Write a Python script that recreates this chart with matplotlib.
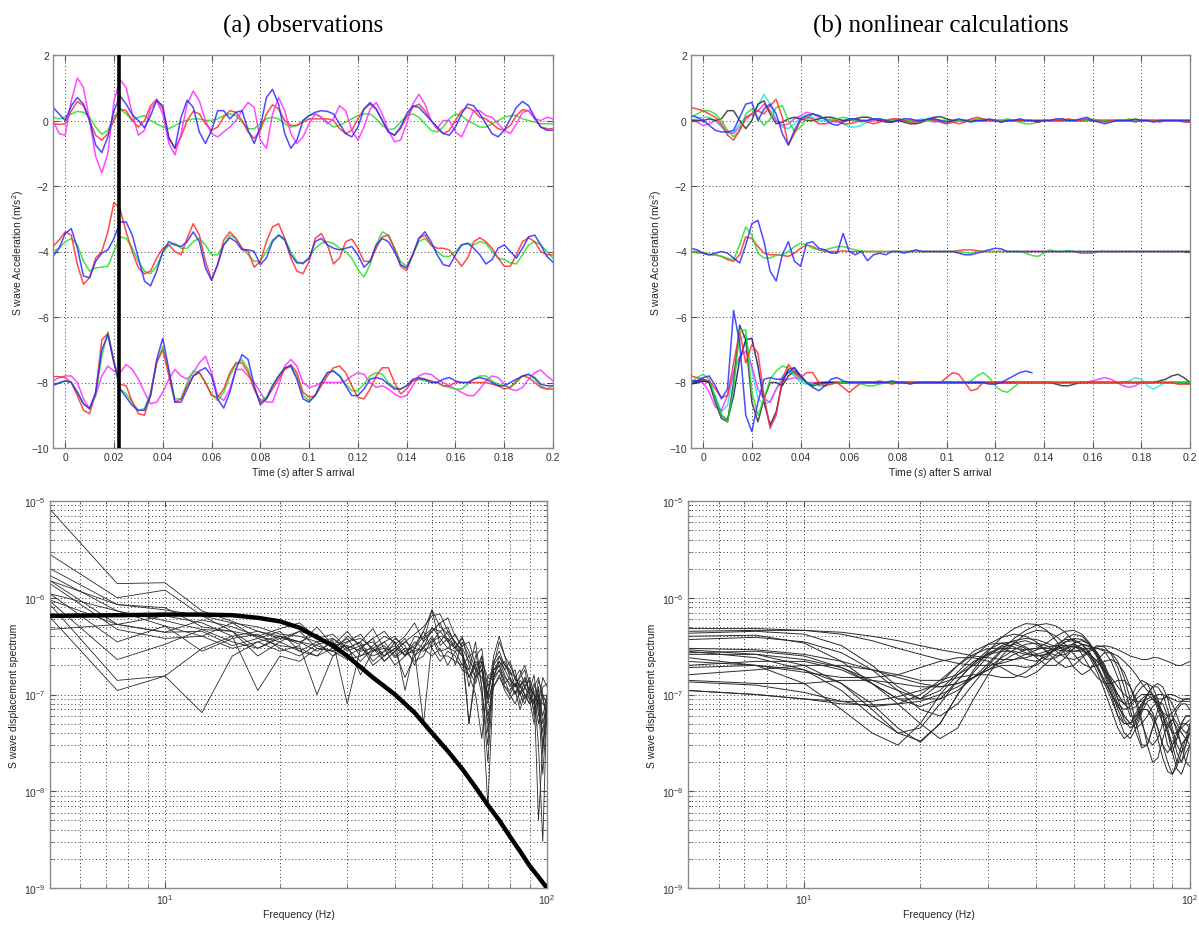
import numpy as np
import matplotlib
matplotlib.use("Agg")
import matplotlib.pyplot as plt
from matplotlib.ticker import FixedLocator, FixedFormatter, NullFormatter

plt.rcParams['font.family'] = ['Liberation Sans', 'DejaVu Sans']
plt.rcParams['mathtext.fontset'] = 'custom'
plt.rcParams['mathtext.rm'] = 'Liberation Sans'
plt.rcParams['mathtext.it'] = 'Liberation Sans:italic'

# ---------------- time axis (s) of the acceleration traces ----------------
t = np.arange(83) * 0.0025 - 0.005
offsets = [0.0, -4.0, -8.0]        # vertical offsets of the three station groups
s_marker = 0.022                    # thick vertical marker, panel (a)

# ---- panel (a) observations: acceleration relative to group offset (m/s^2)
obs_g1_blue = [0.4, 0.2, 0.0, 0.45, 0.7, 0.5, 0.0, -0.75, -0.98, -0.5,
               0.3, 0.75, 0.5, 0.18, 0.0, -0.22, 0.15, 0.62, 0.45, -0.55,
               -0.85, 0.1, 0.62, 0.4, -0.35, -0.7, -0.3, 0.3, 0.3, 0.05,
               0.25, 0.3, -0.3, -0.7, -0.2, 0.7, 0.95, 0.5, -0.4, -0.85,
               -0.6, 0.0, 0.15, 0.25, 0.3, 0.28, 0.2, -0.1, -0.4, -0.5,
               -0.2, 0.35, 0.55, 0.35, 0.0, -0.35, -0.45, -0.2, 0.2, 0.45,
               0.4, 0.2, 0.0, -0.2, -0.4, -0.45, -0.2, 0.2, 0.5, 0.45,
               0.2, -0.1, -0.4, -0.5, -0.3, 0.05, 0.4, 0.58, 0.45, 0.1,
               -0.2, -0.3, -0.3]
obs_g1_red = [-0.1, -0.12, -0.1, 0.3, 0.58, 0.45, 0.0, -0.45, -0.6, -0.4,
              0.0, 0.35, 0.3, 0.0, -0.2, 0.0, 0.45, 0.65, 0.35, -0.5,
              -0.85, -0.5, 0.0, 0.28, 0.2, -0.1, -0.3, -0.2, 0.1, 0.3,
              0.25, 0.0, -0.35, -0.55, -0.3, 0.2, 0.48, 0.35, 0.0, -0.15,
              -0.15, -0.05, 0.05, 0.05, 0.05, 0.05, 0.0, -0.25, -0.4, -0.3,
              0.05, 0.35, 0.5, 0.35, 0.0, -0.35, -0.45, -0.25, 0.1, 0.4,
              0.5, 0.3, 0.0, -0.25, -0.4, -0.3, 0.0, 0.3, 0.4, 0.3,
              0.1, 0.05, -0.1, -0.25, -0.3, -0.15, 0.15, 0.33, 0.3, 0.05,
              -0.2, -0.25, -0.25]
obs_g1_magenta = [0.0, -0.4, -0.45, 0.6, 1.3, 1.0, 0.0, -1.1, -1.6, -1.0,
                  0.6, 1.25, 1.0, 0.2, -0.45, -0.3, 0.35, 0.6, 0.2, -0.7,
                  -1.05, -0.4, 0.5, 0.9, 0.6, 0.0, -0.4, -0.5, -0.35, -0.2,
                  0.0, 0.3, 0.55, 0.4, -0.6, -0.85, 0.2, 0.7, 0.3, -0.4,
                  -0.7, -0.5, -0.1, 0.2, 0.1, -0.1, 0.05, 0.45, 0.3, -0.3,
                  -0.6, -0.2, 0.35, 0.55, 0.2, -0.3, -0.65, -0.6, -0.1, 0.5,
                  0.8, 0.5, 0.0, -0.25, 0.0, 0.0, -0.35, -0.5, -0.1, 0.3,
                  0.3, 0.15, 0.1, -0.1, -0.3, -0.4, -0.1, 0.25, 0.3, 0.05,
                  0.0, 0.1, 0.05]
obs_g1_green = [0.1, 0.05, 0.1, 0.2, 0.28, 0.25, 0.1, -0.2, -0.42, -0.3,
                0.1, 0.35, 0.2, 0.0, 0.1, 0.15, 0.0, -0.1, -0.2, -0.25,
                -0.15, -0.05, 0.0, 0.05, 0.05, 0.0, 0.0, 0.05, 0.15, 0.2,
                0.15, -0.05, -0.25, -0.25, -0.1, 0.05, 0.1, 0.05, -0.1, -0.2,
                -0.15, 0.0, 0.15, 0.2, 0.1, -0.05, -0.2, -0.15, -0.05, 0.05,
                0.15, 0.2, 0.2, 0.05, -0.15, -0.28, -0.25, -0.05, 0.15, 0.2,
                0.1, -0.1, -0.3, -0.35, -0.2, 0.05, 0.2, 0.15, 0.0, -0.1,
                -0.2, -0.2, -0.1, 0.0, 0.1, 0.15, 0.15, 0.05, 0.0, -0.05,
                -0.1, -0.1, -0.1]
obs_g2_red = [0.15, 0.35, 0.6, 0.5, -0.4, -1.0, -0.8, -0.2, 0.0, 0.6,
              1.5, 1.3, 0.6, 0.0, -0.5, -0.68, -0.6, -0.2, 0.1, 0.2,
              0.0, -0.1, 0.4, 0.85, 0.5, -0.3, -0.85, -0.4, 0.35, 0.6,
              0.4, 0.1, 0.0, -0.48, -0.3, 0.3, 0.75, 0.85, 0.4, -0.2,
              -0.6, -0.68, -0.3, 0.4, 0.55, 0.2, -0.38, -0.2, 0.3, 0.38,
              0.1, -0.3, -0.3, 0.1, 0.45, 0.5, 0.1, -0.45, -0.58, -0.1,
              0.4, 0.5, 0.2, 0.1, 0.1, 0.05, -0.2, -0.45, -0.2, 0.3,
              0.42, 0.3, 0.1, -0.2, -0.45, -0.45, -0.1, 0.3, 0.42, 0.3,
              0.0, -0.1, -0.1]
obs_g2_blue = [-0.15, 0.1, 0.55, 0.7, 0.1, -0.75, -0.8, -0.3, -0.05, 0.05,
               0.4, 0.9, 0.9, 0.5, -0.2, -0.9, -1.05, -0.6, 0.0, 0.3,
               0.2, 0.15, 0.3, 0.6, 0.3, -0.5, -0.88, -0.4, 0.2, 0.42,
               0.3, 0.05, 0.05, 0.0, -0.4, -0.2, 0.3, 0.5, 0.35, -0.1,
               -0.35, -0.35, -0.2, 0.3, 0.4, 0.2, 0.1, 0.05, 0.1, 0.15,
               -0.1, -0.48, -0.3, 0.2, 0.4, 0.3, 0.0, -0.4, -0.5, -0.1,
               0.4, 0.6, 0.3, -0.1, -0.4, -0.45, -0.1, 0.2, 0.25, 0.1,
               -0.1, -0.38, -0.25, 0.1, 0.2, 0.0, -0.2, 0.1, 0.45, 0.5,
               0.2, -0.15, -0.33]
obs_g2_green = [0.0, 0.1, 0.3, 0.4, 0.2, -0.3, -0.6, -0.5, -0.48, -0.45,
                0.0, 0.45, 0.4, 0.1, -0.3, -0.6, -0.68, -0.45, -0.05, 0.2,
                0.25, 0.1, 0.1, 0.3, 0.4, 0.2, -0.1, -0.1, 0.2, 0.5,
                0.4, 0.1, -0.1, -0.3, -0.3, 0.0, 0.35, 0.5, 0.4, 0.0,
                -0.3, -0.38, -0.2, 0.1, 0.25, 0.3, 0.25, 0.1, 0.0, -0.2,
                -0.55, -0.78, -0.4, 0.2, 0.6, 0.5, 0.1, -0.3, -0.45, -0.1,
                0.3, 0.4, 0.2, 0.0, -0.15, -0.15, 0.0, 0.2, 0.25, 0.2,
                0.3, 0.25, 0.0, -0.2, -0.25, -0.35, -0.38, -0.1, 0.2, 0.3,
                0.2, 0.0, -0.2]
obs_g3_red = [0.18, 0.18, 0.15, 0.0, -0.4, -0.85, -0.95, -0.3, 1.3, 1.5,
              0.6, -0.05, -0.1, -0.6, -0.95, -1.0, -0.4, 0.6, 1.0, 0.2,
              -0.6, -0.5, -0.1, 0.2, 0.3, 0.0, -0.4, -0.45, -0.2, 0.3,
              0.6, 0.6, 0.3, -0.2, -0.6, -0.5, -0.2, 0.1, 0.4, 0.55,
              0.3, -0.3, -0.45, -0.4, -0.1, 0.2, 0.45, 0.5, 0.3, -0.1,
              -0.45, -0.5, -0.2, 0.2, 0.45, 0.45, 0.0, -0.35, -0.2, 0.05,
              0.1, 0.1, 0.05, 0.0, -0.1, -0.1, 0.0, 0.0, 0.0, 0.0,
              0.0, 0.0, -0.05, -0.1, -0.2, -0.15, 0.05, 0.2, 0.15, 0.0,
              -0.15, -0.2, -0.2]
obs_g3_blue = [-0.08, -0.02, 0.05, 0.0, -0.3, -0.65, -0.8, -0.3, 1.0, 1.45,
               0.6, -0.2, -0.45, -0.7, -0.85, -0.85, -0.4, 0.7, 1.35, 0.4,
               -0.6, -0.6, -0.2, 0.2, 0.35, 0.45, 0.2, -0.5, -0.78, -0.3,
               0.4, 0.85, 0.7, -0.1, -0.68, -0.5, -0.1, 0.2, 0.45, 0.5,
               0.1, -0.5, -0.6, -0.4, 0.0, 0.3, 0.35, 0.2, -0.1, -0.4,
               -0.4, -0.2, 0.1, 0.15, 0.1, -0.05, -0.2, -0.2, -0.1, 0.1,
               0.15, 0.1, 0.0, 0.0, 0.1, 0.15, 0.05, 0.0, 0.0, 0.1,
               0.15, 0.1, 0.0, -0.1, -0.1, 0.0, 0.1, 0.2, 0.25, 0.15,
               -0.05, -0.1, -0.1]
obs_g3_green = [-0.1, 0.0, 0.05, 0.0, -0.3, -0.65, -0.8, -0.4, 0.8, 1.55,
                0.7, -0.2, -0.35, -0.6, -0.85, -0.8, -0.3, 0.6, 1.1, 0.3,
                -0.5, -0.5, 0.0, 0.35, 0.3, 0.0, -0.35, -0.55, -0.3, 0.2,
                0.55, 0.7, 0.4, -0.2, -0.55, -0.45, -0.1, 0.2, 0.4, 0.5,
                0.2, -0.4, -0.55, -0.4, 0.0, 0.3, 0.35, 0.2, -0.05, -0.25,
                -0.25, -0.05, 0.2, 0.3, 0.25, 0.0, -0.15, -0.2, -0.1, 0.05,
                0.1, 0.05, 0.0, 0.0, -0.1, -0.15, -0.2, -0.2, -0.05, 0.1,
                0.2, 0.2, 0.05, -0.05, -0.1, -0.15, 0.0, 0.2, 0.25, 0.1,
                -0.1, -0.2, -0.1]
obs_g3_magenta = [0.05, 0.15, 0.2, 0.2, 0.0, -0.5, -0.8, -0.4, 0.2, 0.5,
                  0.35, 0.3, 0.55, 0.4, 0.1, -0.3, -0.65, -0.6, -0.3, 0.1,
                  0.4, 0.2, 0.1, 0.3, 0.6, 0.8, 0.3, -0.4, -0.55, -0.2,
                  0.4, 0.4, 0.2, 0.0, -0.3, -0.6, -0.6, -0.1, 0.5, 0.7,
                  0.5, 0.0, -0.15, -0.1, 0.0, 0.0, 0.0, 0.0, 0.05, 0.2,
                  0.3, 0.25, 0.0, -0.15, -0.1, -0.2, -0.35, -0.45, -0.4, -0.1,
                  0.2, 0.28, 0.25, 0.1, 0.0, -0.1, -0.2, -0.3, -0.4, -0.4,
                  -0.2, 0.05, 0.2, 0.15, -0.05, -0.2, -0.25, -0.15, 0.1, 0.3,
                  0.38, 0.2, 0.05]

# ---- panel (b) nonlinear calculations: acceleration relative to group offset
calc_g1_blue = [0.15, 0.1, 0, -0.15, -0.3, -0.35, -0.35, -0.3, 0.1, 0.5,
                0.55, 0, 0.35, 0.5, 0.2, -0.4, -0.75, -0.3, 0.05, 0.15,
                0.2, 0.15, 0.05, -0.1, -0.15, -0.05, 0.05, 0.05, 0, 0,
                0.05, 0.05, 0, -0.05, 0, 0.05, 0.05, 0, 0, 0.05,
                0.05, 0, -0.05, 0, 0.05, 0, -0.05, 0, 0, 0.05,
                0, -0.05, 0, 0, 0.05, 0, 0, -0.05, 0, 0,
                0.05, 0.05, 0, 0, 0.05, 0.1, 0, -0.05, -0.1, -0.05,
                0, 0, 0, 0.05, 0, 0, -0.05, 0, 0, 0,
                0, 0, 0]
calc_g1_red = [0.4, 0.35, 0.3, 0.2, 0.1, -0.1, -0.45, -0.6, -0.3, 0.05,
               0.2, 0.3, 0.2, 0.45, 0.65, 0.1, -0.75, -0.4, 0, 0.1,
               0.05, -0.1, -0.1, -0.05, 0, -0.1, -0.1, -0.05, 0, -0.05,
               -0.1, -0.05, 0, 0.05, 0.05, 0, -0.05, -0.05, 0, 0.05,
               0, -0.05, -0.1, -0.05, -0.1, -0.05, 0.05, 0.1, 0.05, 0,
               0, -0.05, 0, 0, 0, 0, 0, -0.05, 0, 0,
               0, 0, 0.05, 0, 0, 0.05, 0, 0, -0.05, 0,
               0, 0, 0, -0.05, 0, 0, 0, -0.05, 0, 0,
               0, -0.05, -0.05]
calc_g1_green = [0.1, 0.2, 0.3, 0.3, 0.2, 0, -0.3, -0.5, -0.3, 0.2,
                 0.35, 0.1, -0.15, 0.05, 0.4, 0.45, 0, -0.35, -0.2, 0.05,
                 0.2, 0.15, 0.05, 0, 0.05, 0.1, 0.05, 0, -0.05, 0,
                 0.05, 0.05, 0, 0, 0.05, 0, 0, -0.05, 0, 0,
                 0.05, 0, 0, -0.05, 0, 0, 0, 0.05, 0.05, 0,
                 0, 0, 0.05, 0, -0.05, -0.1, -0.1, -0.05, 0, 0,
                 0, 0.05, 0, 0, 0, 0, 0.05, 0, 0, 0,
                 0, 0, 0.05, 0, 0, 0, 0, 0, 0, 0,
                 0, 0, 0]
calc_g1_cyan = [0, 0.05, 0.1, 0.1, 0, -0.2, -0.4, -0.35, -0.1, 0.1,
                0.2, 0.45, 0.8, 0.5, 0, -0.2, -0.25, -0.1, 0.1, 0.15,
                0.1, 0, 0, 0.05, 0, -0.1, -0.2, -0.2, -0.15, -0.05,
                0, 0, 0, 0, 0.05, 0, 0, 0, 0.05, 0,
                0, -0.05, -0.1, -0.05, 0, 0, 0, 0, 0, 0,
                0, 0, 0, 0, 0, 0, 0, 0, 0, 0,
                0, 0, 0, 0, 0, 0.05, 0, 0, 0, 0,
                0, 0, 0, 0, 0, 0, 0, 0, 0, 0,
                0, 0, 0]
calc_g1_black = [0, 0, 0, 0.05, 0, 0.05, 0.3, 0.3, 0, -0.25,
                 0, 0.5, 0.6, 0.2, -0.1, -0.05, 0.05, 0.1, 0.05, 0,
                 0, 0.05, 0.1, 0.1, 0.05, 0, 0, 0.05, 0.1, 0.1,
                 0.05, 0, -0.05, -0.05, 0, -0.05, -0.1, -0.1, -0.05, 0.05,
                 0.1, 0.12, 0.05, 0, 0, 0, 0, 0, 0, 0,
                 0, 0, 0, 0, 0, 0, 0, 0, 0, 0,
                 0, 0, 0, 0, 0, 0, 0, 0, 0, 0,
                 0, 0, 0, 0, 0, 0, 0, 0, 0, 0,
                 0, 0, 0]
calc_g1_magenta = [0.05, -0.05, -0.15, -0.1, 0, -0.15, -0.35, -0.4, -0.2, 0.1,
                   0.2, 0.3, 0.5, 0.3, 0, -0.15, -0.1, 0.05, 0.15, 0.25,
                   0.2, 0.1, 0.05, 0, -0.05, 0, 0.05, 0, 0, 0,
                   0, 0, 0, 0, 0, 0, 0, 0, 0, 0,
                   -0.05, 0, 0, 0, 0, 0, 0, 0, 0, 0,
                   0, 0, 0, 0, 0, 0, 0, 0, 0, 0,
                   0, 0, 0, 0, 0, 0, 0, 0, 0, 0,
                   0, 0, 0, 0, 0, 0, 0, 0, 0, 0,
                   0, 0, 0]
calc_g2_blue = [0.1, 0.05, -0.05, -0.1, -0.05, 0, -0.05, -0.2, -0.35, 0.2,
                0.85, 0.95, 0.3, -0.6, -0.9, -0.1, 0.3, -0.3, -0.45, 0.25,
                0.3, 0.1, 0.05, -0.05, -0.05, 0.55, 0, -0.1, 0, -0.28,
                -0.1, -0.05, -0.1, 0, 0, -0.05, 0, 0.05, 0, 0,
                0, 0, 0, 0, -0.05, -0.1, -0.1, -0.05, 0, 0.05,
                0.1, 0.08, 0, 0, 0, 0, 0, 0, 0, 0,
                0, 0, 0, 0, 0, 0, 0, 0, 0, 0,
                0, 0, 0, 0, 0, 0, 0, 0, 0, 0,
                0, 0, 0]
calc_g2_red = [0, 0, -0.05, -0.1, -0.1, -0.15, -0.25, -0.3, -0.1, 0.45,
               0.4, 0.15, -0.05, -0.1, -0.1, -0.12, -0.15, -0.05, 0.1, 0.2,
               0.15, 0.05, 0, 0, 0, 0.02, 0, 0, 0, 0,
               0, 0, 0, 0, 0, 0, 0, 0, 0, 0,
               0, 0, 0, 0, 0.03, 0.05, 0.05, 0.03, 0, 0,
               0, 0, 0, 0, 0, 0, 0, 0, 0, 0,
               0, 0, 0, 0, -0.05, -0.05, -0.05, 0, 0, 0,
               0, 0, 0, 0, 0, 0, 0, 0, 0, 0,
               0, 0, 0]
calc_g2_green = [0, -0.05, -0.05, -0.1, -0.1, -0.15, -0.2, -0.25, 0.2, 0.75,
                 0.5, -0.05, -0.2, -0.2, -0.12, -0.1, 0, 0.15, 0.25, 0.2,
                 0.1, 0.05, 0.05, 0.1, 0.15, 0.15, 0.1, 0.05, 0.02, 0,
                 0, 0, 0, 0, 0, 0, 0, 0, 0, 0,
                 0, 0, 0, 0, 0, -0.03, -0.05, 0, 0, 0,
                 0, 0, 0, 0, 0, -0.05, -0.12, -0.15, -0.05, 0.05,
                 0, 0, 0.03, 0, 0, 0, 0, 0, 0, 0,
                 0, 0, 0, 0, 0, 0, 0, 0, 0, 0,
                 0, 0, 0]
calc_g3_blue = [0.05, 0.05, 0.15, 0.2, -0.1, -0.5, -0.2, 2.2, 1.2, -1.0,
                -1.5, -0.6, 0.1, 0.15, 0.1, 0.1, 0.3, 0.45, 0.2, 0,
                -0.15, -0.25, -0.1, 0.1, 0.15, 0.05, 0, 0, 0, 0,
                0, 0, 0, 0.05, 0, 0, -0.05, 0, 0, 0,
                0, 0, 0, 0, 0, 0, 0, 0, 0, -0.05,
                -0.05, 0, 0.1, 0.2, 0.3, 0.35, 0.3]
calc_g3_red = [0.2, 0.15, 0.1, 0.05, -0.2, -0.45, -0.4, 0.6, 1.55, 0.6,
               1.15, 0.9, -0.4, -1.4, -1.0, 0.1, 0.55, 0.3, 0.15, 0.3,
               0.3, 0, -0.1, -0.05, 0, -0.15, -0.3, -0.15, 0, 0,
               0, 0.05, 0, -0.05, 0, 0, 0, 0, 0, 0,
               0, 0, 0.15, 0.3, 0.25, 0, -0.25, -0.2, 0, 0,
               0, 0, 0, 0, 0, 0, 0, 0, 0, 0,
               0, 0, 0, 0, 0, 0, 0, 0, 0, 0,
               0, 0, 0, 0, 0, 0, 0, 0, 0, 0,
               -0.05, -0.05, -0.05]
calc_g3_green = [0, 0.15, 0.25, 0.1, -0.5, -1.0, -1.2, -0.2, 1.6, 1.6,
                 -0.3, -1.0, -0.5, 0.1, 0.35, 0.5, 0.45, 0.25, 0.1, 0,
                 -0.05, -0.1, -0.1, -0.05, 0, 0, 0, 0, -0.05, -0.1,
                 -0.1, -0.05, 0, 0, 0, 0, 0, 0, 0, 0,
                 0, 0, 0, 0, 0, 0, 0.05, 0.2, 0.3, 0.15,
                 -0.1, -0.25, -0.3, -0.15, 0, 0, 0, 0, 0, 0,
                 0, 0, 0, 0, 0, 0, 0, 0, 0, 0,
                 0, 0, 0, 0, 0, 0, 0, 0, 0, 0,
                 0, 0, 0]
calc_g3_black = [0, 0.05, 0.1, 0, -0.6, -1.1, -1.2, 0, 1.75, 1.3,
                 -0.6, -1.2, -0.5, 0, 0, -0.1, 0.2, 0.35, 0.2, 0,
                 -0.05, 0, 0, 0, 0, 0, 0, 0, 0, 0,
                 0, 0, 0, 0, 0, 0, 0, 0, 0, 0,
                 0, 0, 0, 0, 0, 0, 0, 0, 0, 0,
                 0, 0, 0, 0, 0, 0, 0, 0, 0, 0,
                 -0.05, -0.1, -0.1, -0.05, 0, 0, 0, 0, 0, 0,
                 0, 0, 0, 0, 0, 0, 0, 0.05, 0.1, 0.2,
                 0.25, 0.15, 0]
calc_g3_cyan = [0, 0, 0.05, 0, -0.4, -0.9, -0.7, 0.3, 1.3, 1.45,
                0.4, -0.5, -0.65, -0.6, -0.2, 0.2, 0.35, 0.2, 0, -0.05,
                -0.1, -0.05, 0, 0, 0, 0, 0, 0, 0, 0,
                0, 0, 0, 0, 0, 0, 0, 0, 0, 0,
                0, 0, 0, 0, 0, 0, 0, 0, 0, 0,
                0, 0, 0, 0, 0, 0, 0, 0, 0, 0,
                0, 0, 0, 0, 0, 0, 0, 0, 0, 0,
                0, 0, 0.05, 0.15, 0.1, -0.1, -0.2, -0.1, 0, 0,
                0, 0, 0]
calc_g3_magenta = [0, 0.05, 0, -0.3, -0.75, -0.85, -0.4, 0.3, 0.8, 0.95,
                   0.5, -0.2, -0.5, -0.6, -0.2, 0.05, 0.1, 0.15, 0.1, 0,
                   0, 0, 0, 0, 0, 0, 0, 0, 0, 0,
                   0, 0, 0, 0, 0, 0, 0, 0, 0, 0,
                   0, 0, 0, 0, 0, 0, 0, 0, 0, 0,
                   0, 0, 0, 0, 0, 0, 0, 0, 0, 0,
                   0, 0, 0, 0, 0, 0, 0.05, 0.1, 0.15, 0.1,
                   0, -0.1, -0.15, -0.1, 0, 0, 0, 0, 0, 0,
                   0, 0, 0]
calc_g3_navy = [-0.05, 0, 0.05, 0, -0.5, -1.0, -1.15, -0.4, 0.7, 1.3,
                1.35, 0.5, -0.6, -1.3, -0.9, 0, 0.4, 0.45, 0.2, 0,
                -0.1, -0.05, 0, 0, 0, 0, 0, 0, 0, 0,
                0, 0, 0, 0, 0, 0, 0, 0, 0, 0,
                0, 0, 0, 0, 0, 0, 0, 0, 0, 0,
                0, 0, 0, 0, 0, 0, 0, 0, 0, 0,
                0, 0, 0, 0, 0, 0, 0, 0, 0, 0,
                0, 0, 0, 0, 0, 0, 0, 0, 0, 0,
                0, 0, 0]

# ---------------- spectra ----------------
freq = np.arange(39) * 2.5 + 5.0          # Hz
spec_unit = 1e-7
# model source spectrum (thick line in (a)), in units of 1e-7
model_freq = [5, 7.5, 10, 12.5, 15, 17.5, 20, 22.5, 25, 27.5, 30, 35, 40, 45,
              50, 55, 60, 65, 70, 75, 80, 85, 90, 95, 100]
model_spec = [6.5, 6.6, 6.7, 6.7, 6.6, 6.2, 5.7, 4.9, 3.9, 3.2, 2.5, 1.5, 1.0,
              0.65, 0.40, 0.26, 0.17, 0.11, 0.072, 0.050, 0.034, 0.024, 0.017,
              0.013, 0.010]
obs_spec = [
    [82, 14, 14.3, 7.3, 5.7, 4.5, 4.0, 3.3, 5.0, 3.2, 4.5, 3.0, 3.8, 4.5, 3.3, 4.0, 5.5, 3.5, 7.5, 5.0,
     4.2, 3.0, 2.5, 1.8, 3.5, 1.2, 0.3, 2.0, 3.5, 2.5, 2.0, 1.5, 1.8, 1.2, 1.5, 1.0, 0.8, 1.5, 1.2],
    [28, 10, 12, 6.5, 4.5, 4.0, 4.8, 5.5, 3.8, 4.2, 3.0, 3.5, 4.8, 3.0, 2.8, 3.5, 4.2, 5.0, 6.5, 6.8,
     4.5, 3.5, 2.8, 1.2, 2.5, 3.0, 0.9, 2.2, 2.8, 2.0, 1.8, 1.2, 1.6, 2.0, 1.3, 0.6, 1.2, 0.25, 0.8],
    [20, 8.5, 7.5, 6.5, 5.5, 5.0, 4.2, 4.0, 3.5, 3.8, 2.8, 3.2, 3.5, 2.5, 3.0, 3.8, 2.5, 3.5, 4.5, 5.5,
     6.2, 4.0, 3.2, 3.5, 2.0, 1.0, 0.07, 1.5, 2.5, 2.0, 1.7, 1.5, 1.2, 1.0, 0.8, 1.2, 1.5, 0.9, 0.6],
    [17, 7.3, 5.8, 4.7, 3.5, 3.0, 3.8, 4.5, 4.0, 3.2, 3.5, 4.2, 2.8, 3.5, 4.0, 2.8, 3.2, 4.5, 7.5, 3.2,
     3.8, 3.0, 4.0, 2.0, 1.5, 2.5, 0.4, 1.5, 2.2, 1.8, 1.4, 1.2, 1.5, 1.8, 1.0, 0.8, 1.4, 1.0, 0.5],
    [15, 5.3, 4.4, 5.9, 5.0, 4.0, 3.5, 4.5, 3.0, 2.8, 4.0, 3.3, 2.0, 2.5, 3.5, 1.1, 3.0, 4.0, 4.8, 4.5,
     3.5, 4.2, 3.0, 2.2, 1.8, 2.5, 1.2, 1.8, 2.0, 1.5, 1.3, 1.0, 1.2, 1.5, 1.0, 1.3, 0.9, 0.4, 1.0],
    [14, 4.7, 3.8, 4.0, 3.0, 3.5, 2.8, 3.2, 1.0, 2.5, 3.0, 2.2, 3.0, 3.5, 2.5, 3.0, 2.8, 0.5, 3.5, 4.5,
     5.0, 3.2, 2.5, 1.5, 2.2, 1.8, 0.8, 1.5, 1.8, 1.4, 1.0, 1.3, 1.0, 1.2, 0.9, 0.5, 1.0, 0.3, 0.9],
    [11, 3.5, 5.1, 2.8, 3.8, 4.2, 3.0, 2.5, 3.3, 3.6, 0.8, 3.0, 2.5, 2.8, 3.2, 2.5, 3.5, 3.0, 4.0, 2.8,
     3.0, 3.5, 2.6, 0.5, 1.8, 2.0, 1.0, 2.5, 4.0, 2.5, 1.6, 1.8, 1.0, 1.4, 1.1, 1.6, 0.6, 1.2, 1.3],
    [9.2, 2.3, 3.3, 4.7, 4.5, 2.5, 3.5, 2.8, 2.5, 3.0, 3.2, 1.6, 2.8, 3.0, 2.0, 2.5, 3.0, 4.5, 3.0, 2.2,
     2.8, 2.5, 1.8, 1.6, 1.0, 0.35, 1.5, 1.8, 2.2, 1.6, 1.2, 1.5, 0.8, 1.2, 1.0, 0.7, 0.9, 0.8, 0.7],
    [8.5, 1.4, 1.55, 0.65, 2.5, 3.5, 4.0, 3.5, 2.8, 3.5, 2.5, 3.0, 3.8, 2.2, 2.8, 1.5, 2.5, 3.0, 2.5, 3.0,
     2.0, 2.8, 3.0, 0.5, 1.5, 1.8, 0.9, 1.2, 1.5, 1.2, 1.0, 0.8, 1.1, 0.9, 1.2, 1.0, 0.3, 0.03, 0.9],
    [6.3, 1.1, 1.55, 3.0, 4.0, 1.1, 2.5, 2.2, 3.0, 2.8, 2.3, 2.5, 2.8, 3.2, 2.4, 2.8, 2.2, 2.5, 3.8, 2.5,
     2.5, 2.2, 2.0, 1.8, 1.3, 2.2, 0.6, 1.2, 1.6, 1.1, 0.9, 1.1, 0.7, 1.0, 0.8, 0.9, 0.5, 1.0, 0.8],
    [4.7, 5.3, 6.5, 5.5, 4.0, 4.5, 3.8, 3.5, 3.2, 2.8, 3.2, 2.8, 3.0, 2.5, 3.0, 2.6, 2.8, 3.0, 5.0, 3.8,
     3.0, 2.8, 2.0, 2.5, 1.5, 1.8, 0.5, 1.8, 2.0, 1.3, 1.5, 1.2, 1.3, 1.0, 0.9, 1.1, 0.05, 0.3, 0.6],
    [15, 8.5, 7.9, 5.0, 4.5, 3.0, 4.0, 3.5, 4.2, 3.0, 3.8, 2.5, 3.2, 4.0, 3.5, 2.5, 4.0, 3.8, 4.5, 5.5,
     3.5, 3.0, 3.8, 2.8, 1.8, 1.5, 1.0, 2.0, 2.5, 1.8, 2.2, 1.5, 1.2, 1.5, 1.0, 0.8, 1.0, 0.6, 1.0],
    [11, 7.3, 5.1, 4.0, 5.5, 3.8, 3.2, 3.0, 2.5, 3.8, 3.0, 3.5, 2.2, 2.8, 3.8, 3.2, 2.0, 3.2, 3.5, 4.0,
     3.8, 2.0, 3.5, 2.5, 2.8, 1.2, 0.2, 1.6, 2.0, 2.2, 1.5, 1.0, 1.4, 1.2, 1.4, 0.8, 1.2, 0.5, 0.8],
    [9.5, 5.3, 4.4, 4.5, 3.2, 3.8, 4.5, 2.8, 3.5, 2.5, 3.5, 3.8, 3.0, 2.2, 2.8, 3.5, 3.0, 2.8, 3.2, 3.5,
     4.5, 3.5, 2.8, 1.5, 2.0, 2.2, 1.5, 1.4, 1.8, 1.2, 1.1, 1.3, 1.0, 0.8, 1.2, 1.0, 0.8, 0.15, 0.7],
]
calc_spec = [
    [4.8, 4.8, 4.6, 4.2, 3.6, 3.0, 2.6, 2.3, 2.1, 2.0, 2.0, 2.1, 2.3, 2.6, 2.9, 3.1, 3.2, 3.2, 3.1, 3.0,
     3.0, 3.1, 3.2, 3.1, 2.9, 2.7, 2.5, 2.4, 2.3, 2.3, 2.4, 2.4, 2.3, 2.2, 2.1, 2.0, 2.0, 2.1, 2.2],
    [4.3, 4.5, 4.2, 3.2, 2.0, 1.2, 0.9, 1.1, 1.7, 2.5, 3.3, 3.9, 4.2, 4.0, 3.5, 2.8, 2.2, 1.9, 2.0, 2.4,
     2.8, 3.0, 2.8, 2.2, 1.5, 0.9, 0.6, 0.6, 0.8, 1.0, 1.0, 0.8, 0.5, 0.3, 0.25, 0.35, 0.5, 0.6, 0.6],
    [4.0, 4.1, 3.4, 2.2, 1.3, 0.9, 0.9, 1.3, 2.0, 2.8, 3.3, 3.4, 3.1, 2.7, 2.5, 2.6, 3.0, 3.5, 3.8, 3.7,
     3.3, 2.6, 1.9, 1.3, 0.9, 0.8, 0.9, 1.2, 1.4, 1.3, 1.0, 0.7, 0.5, 0.45, 0.55, 0.7, 0.8, 0.8, 0.7],
    [2.9, 2.6, 2.0, 1.3, 0.7, 0.4, 0.33, 0.5, 1.0, 1.8, 2.8, 3.9, 4.8, 5.4, 5.3, 4.6, 3.6, 2.6, 1.9, 1.6,
     1.8, 2.3, 2.7, 2.7, 2.2, 1.5, 0.9, 0.5, 0.3, 0.3, 0.45, 0.6, 0.6, 0.45, 0.3, 0.2, 0.2, 0.3, 0.4],
    [2.8, 2.4, 1.8, 1.1, 0.6, 0.4, 0.45, 0.8, 1.4, 2.1, 2.7, 3.0, 3.0, 2.9, 3.0, 3.4, 4.0, 4.5, 4.6, 4.2,
     3.4, 2.5, 1.7, 1.1, 0.7, 0.5, 0.5, 0.65, 0.8, 0.8, 0.65, 0.45, 0.3, 0.25, 0.3, 0.4, 0.5, 0.5, 0.45],
    [2.6, 2.6, 2.3, 1.9, 1.4, 1.1, 0.9, 0.9, 1.1, 1.5, 2.1, 2.9, 3.8, 4.6, 5.2, 5.4, 5.1, 4.4, 3.5, 2.6,
     1.9, 1.5, 1.3, 1.3, 1.4, 1.4, 1.2, 0.9, 0.55, 0.3, 0.2, 0.22, 0.35, 0.5, 0.55, 0.45, 0.3, 0.2, 0.18],
    [2.0, 2.2, 2.2, 1.8, 1.3, 0.9, 0.75, 0.9, 1.4, 2.1, 2.9, 3.4, 3.5, 3.1, 2.6, 2.3, 2.4, 2.9, 3.4, 3.6,
     3.3, 2.7, 2.0, 1.4, 1.0, 0.8, 0.8, 1.0, 1.2, 1.3, 1.2, 0.9, 0.6, 0.4, 0.3, 0.35, 0.5, 0.6, 0.6],
    [1.4, 1.3, 1.3, 1.4, 1.4, 1.3, 1.2, 1.2, 1.3, 1.5, 1.8, 2.2, 2.6, 2.9, 3.0, 3.0, 2.9, 2.8, 2.8, 2.9,
     3.0, 3.0, 2.9, 2.7, 2.5, 2.2, 1.9, 1.6, 1.3, 1.1, 1.0, 0.9, 0.9, 1.0, 1.0, 0.95, 0.9, 0.9, 0.9],
    [1.1, 1.0, 0.9, 0.85, 0.85, 0.95, 1.1, 1.3, 1.5, 1.6, 1.6, 1.5, 1.5, 1.7, 2.1, 2.7, 3.3, 3.7, 3.7, 3.3,
     2.6, 1.9, 1.3, 0.9, 0.6, 0.5, 0.5, 0.6, 0.7, 0.7, 0.6, 0.45, 0.3, 0.2, 0.15, 0.18, 0.25, 0.35, 0.4],
    [3.0, 2.9, 2.6, 2.2, 1.8, 1.5, 1.3, 1.2, 1.3, 1.5, 1.8, 2.0, 2.0, 1.9, 2.0, 2.4, 3.0, 3.5, 3.6, 3.3,
     2.7, 2.0, 1.4, 1.0, 0.75, 0.6, 0.5, 0.45, 0.5, 0.6, 0.75, 0.85, 0.8, 0.6, 0.4, 0.25, 0.2, 0.25, 0.3],
    [1.9, 2.0, 1.8, 1.3, 0.8, 0.45, 0.32, 0.5, 1.0, 1.7, 2.5, 3.1, 3.3, 3.0, 2.4, 2.0, 2.0, 2.4, 3.0, 3.3,
     3.1, 2.5, 1.8, 1.2, 0.8, 0.55, 0.45, 0.5, 0.7, 1.0, 1.2, 1.3, 1.2, 0.9, 0.6, 0.4, 0.3, 0.35, 0.5],
    [3.7, 3.9, 3.5, 2.7, 1.8, 1.1, 0.7, 0.6, 0.8, 1.3, 2.0, 2.8, 3.4, 3.6, 3.3, 2.8, 2.5, 2.6, 3.0, 3.3,
     3.2, 2.7, 2.0, 1.4, 0.9, 0.6, 0.5, 0.55, 0.75, 1.0, 1.2, 1.2, 1.0, 0.7, 0.45, 0.3, 0.25, 0.3, 0.45],
    [1.6, 1.8, 2.0, 2.0, 1.8, 1.6, 1.4, 1.4, 1.6, 2.0, 2.6, 3.2, 3.6, 3.8, 3.7, 3.4, 3.1, 2.9, 2.8, 2.8,
     2.6, 2.2, 1.7, 1.3, 1.0, 0.8, 0.7, 0.75, 0.9, 1.0, 1.0, 0.85, 0.65, 0.5, 0.4, 0.4, 0.45, 0.5, 0.55],
    [2.4, 2.0, 1.3, 0.7, 0.4, 0.3, 0.5, 1.0, 1.6, 2.2, 2.6, 2.8, 2.8, 2.6, 2.5, 2.6, 2.9, 3.2, 3.3, 3.0,
     2.4, 1.7, 1.1, 0.7, 0.45, 0.35, 0.4, 0.55, 0.7, 0.7, 0.55, 0.35, 0.22, 0.16, 0.15, 0.2, 0.3, 0.35, 0.3],
    [2.2, 2.0, 1.7, 1.5, 1.5, 1.6, 1.9, 2.2, 2.4, 2.4, 2.2, 1.9, 1.6, 1.5, 1.7, 2.1, 2.6, 3.0, 3.2, 3.0,
     2.5, 1.9, 1.4, 1.0, 0.8, 0.7, 0.75, 0.9, 1.0, 1.0, 0.9, 0.75, 0.65, 0.6, 0.65, 0.75, 0.85, 0.9, 0.9],
    [4.5, 4.6, 4.6, 4.4, 4.0, 3.6, 3.2, 2.9, 2.7, 2.5, 2.4, 2.3, 2.3, 2.4, 2.6, 2.8, 3.0, 3.1, 3.1, 2.9,
     2.6, 2.2, 1.8, 1.5, 1.2, 1.0, 0.9, 0.85, 0.85, 0.9, 0.95, 1.0, 1.0, 0.95, 0.9, 0.85, 0.85, 0.85, 0.85],
    [1.35, 1.25, 1.05, 0.85, 0.75, 0.8, 1.0, 1.4, 2.0, 2.6, 3.0, 3.0, 2.7, 2.3, 2.2, 2.5, 3.1, 3.8, 4.2, 4.0,
     3.3, 2.4, 1.6, 1.0, 0.6, 0.4, 0.35, 0.45, 0.65, 0.85, 0.9, 0.8, 0.6, 0.4, 0.25, 0.17, 0.15, 0.2, 0.3],
    [2.7, 2.8, 2.5, 1.9, 1.3, 0.8, 0.5, 0.35, 0.45, 0.9, 1.6, 2.5, 3.4, 4.2, 4.6, 4.5, 4.0, 3.3, 2.6, 2.1,
     1.9, 2.0, 2.2, 2.3, 2.1, 1.7, 1.2, 0.8, 0.5, 0.35, 0.3, 0.35, 0.5, 0.6, 0.6, 0.5, 0.4, 0.35, 0.4],
    [1.1, 1.0, 0.9, 0.8, 0.78, 0.8, 0.85, 1.0, 1.2, 1.5, 1.9, 2.4, 2.9, 3.3, 3.4, 3.2, 2.8, 2.4, 2.3, 2.5,
     2.9, 3.2, 3.1, 2.6, 1.9, 1.2, 0.7, 0.4, 0.28, 0.3, 0.45, 0.7, 0.9, 0.95, 0.8, 0.6, 0.45, 0.4, 0.45],
]

time_ticks = [0, 0.02, 0.04, 0.06, 0.08, 0.1, 0.12, 0.14, 0.16, 0.18, 0.2]
time_tick_labels = ['0', '0.02', '0.04', '0.06', '0.08', '0.1', '0.12', '0.14', '0.16', '0.18', '0.2']
acc_ticks = [-10, -8, -6, -4, -2, 0, 2]
freq_major = [10, 100]
freq_major_labels = ['$\\mathdefault{10^{1}}$', '$\\mathdefault{10^{2}}$']
freq_minor = [5, 6, 7, 8, 9, 20, 30, 40, 50, 60, 70, 80, 90]
spec_major = [1e-9, 1e-8, 1e-7, 1e-6, 1e-5]
spec_major_labels = ['$\\mathdefault{10^{-9}}$', '$\\mathdefault{10^{-8}}$', '$\\mathdefault{10^{-7}}$',
                     '$\\mathdefault{10^{-6}}$', '$\\mathdefault{10^{-5}}$']
spec_minor = [m * 10.0 ** e for e in (-9, -8, -7, -6) for m in range(2, 10)]

C = {'red': '#ff2b2b', 'green': '#22e022', 'blue': '#2b2bff', 'magenta': '#ff2bff',
     'cyan': '#22e6e6', 'black': '#303030', 'navy': '#10108a'}

W, H = 1199, 928
fig = plt.figure(figsize=(W / 100, H / 100), dpi=100)

def frac(l, t_, r, b):
    return [l / W, 1 - b / H, (r - l) / W, (b - t_) / H]

ax_a = fig.add_axes(frac(53, 56, 553, 449))
ax_b = fig.add_axes(frac(691, 56, 1190, 449))
ax_c = fig.add_axes(frac(50, 502, 547, 889))
ax_d = fig.add_axes(frac(688, 502, 1190, 889))

grid_kw = dict(linestyle=(0, (1, 2.6)), color='#3a3a3a', linewidth=0.7)

def style_common(ax):
    for s in ax.spines.values():
        s.set_color('#8a8a8a')
        s.set_linewidth(1.0)
    ax.tick_params(which='both', direction='in', top=True, right=True,
                   color='#505050', labelcolor='#333333', labelsize=7.5, pad=3)
    ax.tick_params(which='major', length=4, width=0.8)
    ax.tick_params(which='minor', length=2, width=0.6)

def style_time(ax):
    style_common(ax)
    ax.set_xlim(-0.005, 0.2)
    ax.set_ylim(-10, 2)
    ax.xaxis.set_major_locator(FixedLocator(time_ticks))
    ax.xaxis.set_major_formatter(FixedFormatter(time_tick_labels))
    ax.yaxis.set_major_locator(FixedLocator(acc_ticks))
    ax.grid(True, which='major', **grid_kw)
    ax.set_axisbelow(True)
    ax.set_xlabel('Time ($\\it{s}$) after S arrival', fontsize=7.5, color='#222222', labelpad=2)
    ax.set_ylabel('S wave Acceleration (m/s$^2$)', fontsize=7.5, color='#222222', labelpad=4)

def style_spec(ax):
    style_common(ax)
    ax.set_xscale('log')
    ax.set_yscale('log')
    ax.set_xlim(5, 100)
    ax.set_ylim(1e-9, 1e-5)
    ax.xaxis.set_major_locator(FixedLocator(freq_major))
    ax.xaxis.set_major_formatter(FixedFormatter(freq_major_labels))
    ax.xaxis.set_minor_locator(FixedLocator(freq_minor))
    ax.xaxis.set_minor_formatter(NullFormatter())
    ax.yaxis.set_major_locator(FixedLocator(spec_major))
    ax.yaxis.set_major_formatter(FixedFormatter(spec_major_labels))
    ax.yaxis.set_minor_locator(FixedLocator(spec_minor))
    ax.yaxis.set_minor_formatter(NullFormatter())
    ax.grid(True, which='both', **grid_kw)
    ax.set_axisbelow(True)
    ax.set_xlabel('Frequency (Hz)', fontsize=7.5, color='#222222', labelpad=2)
    ax.set_ylabel('S wave displacement spectrum', fontsize=7.5, color='#222222', labelpad=4)

def trace(ax, y, off, color, lw=1.1):
    n = min(len(t), len(y))
    ax.plot(t[:n], np.asarray(y[:n], dtype=float) + off, color=C[color], lw=lw, alpha=0.85,
            solid_joinstyle='round')

# ---- (a) observations
obs_groups = [
    [(obs_g1_green, 'green'), (obs_g1_red, 'red'), (obs_g1_magenta, 'magenta'), (obs_g1_blue, 'blue')],
    [(obs_g2_green, 'green'), (obs_g2_red, 'red'), (obs_g2_blue, 'blue')],
    [(obs_g3_magenta, 'magenta'), (obs_g3_green, 'green'), (obs_g3_red, 'red'), (obs_g3_blue, 'blue')],
]
for off, grp in zip(offsets, obs_groups):
    for y, c in grp:
        trace(ax_a, y, off, c)
ax_a.axvline(s_marker, color='black', lw=2.6, zorder=5)
style_time(ax_a)
ax_a.set_title('(a) observations', fontfamily=['Liberation Serif', 'DejaVu Serif'],
               fontsize=18, pad=17, color='black')

# ---- (b) nonlinear calculations
calc_groups = [
    [(calc_g1_cyan, 'cyan'), (calc_g1_magenta, 'magenta'), (calc_g1_black, 'black'),
     (calc_g1_green, 'green'), (calc_g1_red, 'red'), (calc_g1_blue, 'blue')],
    [(calc_g2_red, 'red'), (calc_g2_green, 'green'), (calc_g2_blue, 'blue')],
    [(calc_g3_cyan, 'cyan'), (calc_g3_magenta, 'magenta'), (calc_g3_black, 'black'),
     (calc_g3_navy, 'navy'), (calc_g3_green, 'green'), (calc_g3_red, 'red'), (calc_g3_blue, 'blue')],
]
for off, grp in zip(offsets, calc_groups):
    for y, c in grp:
        trace(ax_b, y, off, c)
style_time(ax_b)
ax_b.set_title('(b) nonlinear calculations', fontfamily=['Liberation Serif', 'DejaVu Serif'],
               fontsize=18, pad=17, color='black')

# ---- (c) observed spectra with model
for s in obs_spec:
    ax_c.plot(freq, np.asarray(s) * spec_unit, color='#2a2a2a', lw=0.6)
ax_c.plot(model_freq, np.asarray(model_spec) * spec_unit, color='black', lw=3.2,
          solid_capstyle='butt', zorder=6)
style_spec(ax_c)

# ---- (d) calculated spectra
for s in calc_spec:
    ax_d.plot(freq, np.asarray(s) * spec_unit, color='#2a2a2a', lw=0.7)
style_spec(ax_d)

fig.savefig('out.png', dpi=100)
